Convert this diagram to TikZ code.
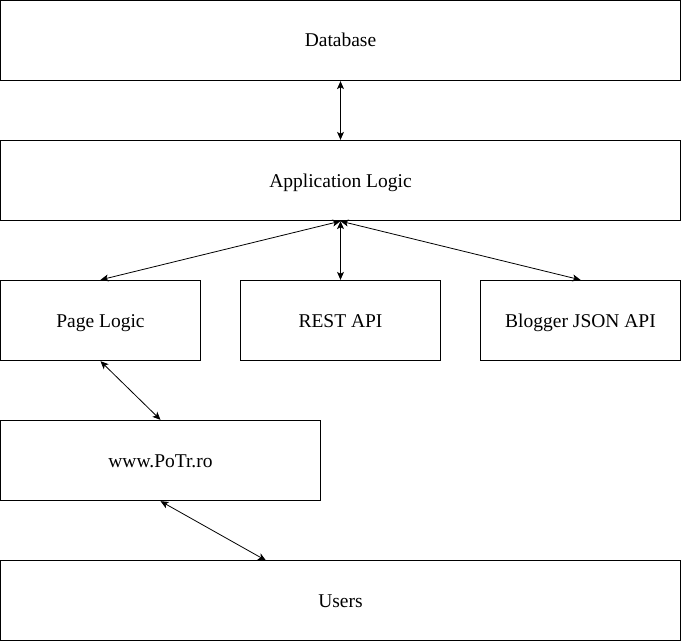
\documentclass[tikz,border=0pt]{standalone}
\usepackage{fontspec}
\setmainfont{Liberation Serif}
\usetikzlibrary{arrows.meta}
\begin{document}
\begin{tikzpicture}[x=1pt,y=-1pt,
  box/.style={draw=black, line width=1.3pt, minimum width=#1, minimum height=80pt, inner sep=0pt, text height=13pt, text depth=0pt, font=\fontsize{19.5}{22}\selectfont},
  link/.style={line width=0.8pt, {Stealth[length=8pt,width=7pt,inset=2pt]}-{Stealth[length=8pt,width=7pt,inset=2pt]}}]
\useasboundingbox (0,0) rectangle (682,642);
\node[box=680pt] (db) at (340.5,40.5) {Database};
\node[box=680pt] (app) at (340.5,180.5) {Application Logic};
\node[box=200pt] (page) at (100.5,320.5) {Page Logic};
\node[box=200pt] (rest) at (340.5,320.5) {REST API};
\node[box=200pt] (blog) at (580.5,320.5) {Blogger JSON API};
\node[box=320pt] (www) at (160.5,460.5) {www.PoTr.ro};
\node[box=680pt] (users) at (340.5,600.5) {Users};
\coordinate (ut) at (266,560.5);
\draw[link] (db.south) -- (app.north);
\draw[link] (app.south) -- (page.north);
\draw[link] (app.south) -- (rest.north);
\draw[link] (app.south) -- (blog.north);
\draw[link] (page.south) -- (www.north);
\draw[link] (www.south) -- (ut);
\end{tikzpicture}
\end{document}
